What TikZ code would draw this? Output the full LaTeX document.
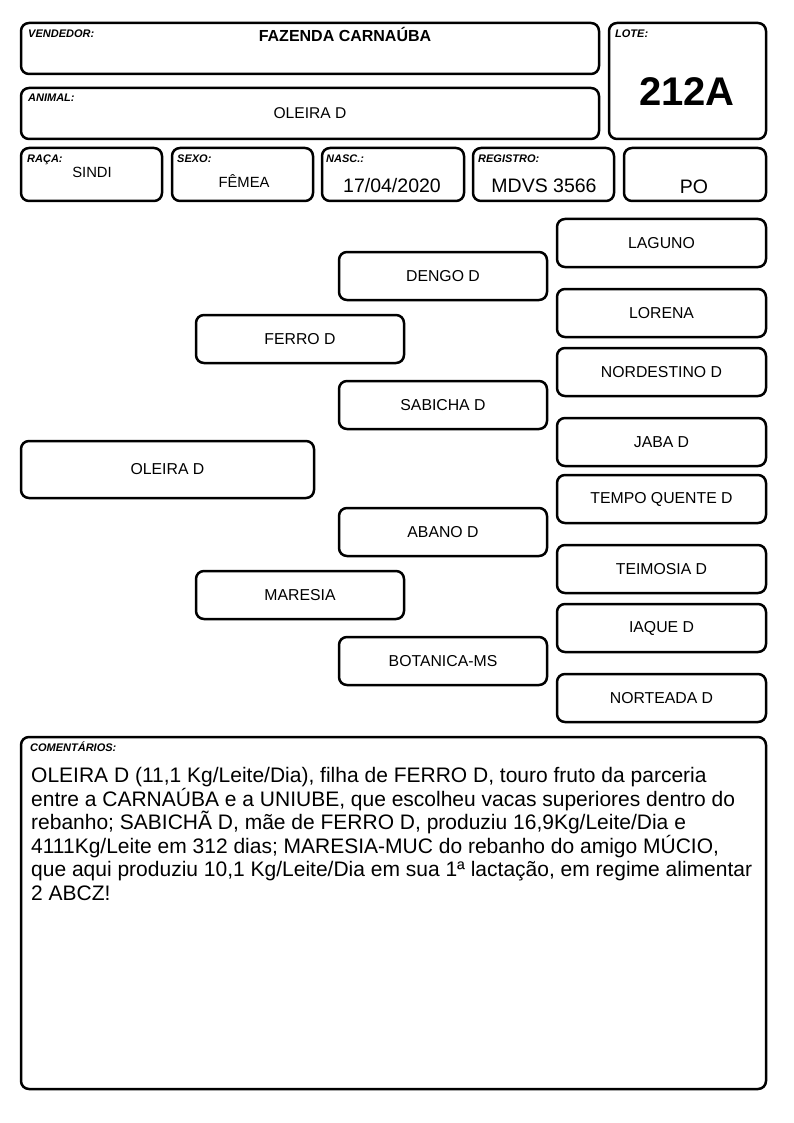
\documentclass[tikz,border=0pt]{standalone}
\usepackage{fontspec}
\setmainfont{Liberation Sans}
\usetikzlibrary{positioning}

\tikzset{
  box/.style={draw, line width=2.5pt, rounded corners=8pt, inner sep=0pt},
  pbox/.style={box, minimum width=208pt, minimum height=48pt, font=\fontsize{15.8}{18}\selectfont},
  tag/.style={anchor=base west, inner sep=0pt, font=\fontsize{11}{12}\selectfont\bfseries\itshape},
  val/.style={anchor=base, inner sep=0pt, font=\fontsize{#1}{#1}\selectfont},
}

\begin{document}
\begin{tikzpicture}[x=1pt,y=-1pt]
    \useasboundingbox (0,0) rectangle (794,1123);

    % Header boxes.
    \node[box, minimum width=578pt, minimum height=51pt] (vendedor) at (310,48.5) {};
    \node[box, minimum width=157pt, minimum height=116pt] (lote) at (687.5,81) {};
    \node[box, minimum width=578pt, minimum height=51pt] (animal) at (310,113.5) {};
    \node[box, minimum width=141pt, minimum height=53pt] (raca) at (91.5,174.5) {};
    \node[box, minimum width=141pt, minimum height=53pt] (sexo) at (242.5,174.5) {};
    \node[box, minimum width=142pt, minimum height=53pt] (nasc) at (393,174.5) {};
    \node[box, minimum width=141pt, minimum height=53pt] (registro) at (543.5,174.5) {};
    \node[box, minimum width=142pt, minimum height=53pt] (categoria) at (695,174.5) {};

    % Field names.
    \node[tag] (vendedortag) at (28,38) {VENDEDOR:};
    \node[tag] (lotetag) at (615,38) {LOTE:};
    \node[tag] (animaltag) at (28,102) {ANIMAL:};
    \node[tag] (racatag) at (27,163) {RAÇA:};
    \node[tag] (sexotag) at (177,163) {SEXO:};
    \node[tag] (nasctag) at (326,163) {NASC.:};
    \node[tag] (registrotag) at (478,163) {REGISTRO:};

    % Field values.
    \node[val=16, font=\fontsize{16}{16}\selectfont\bfseries] (vendedorval) at (345,42) {FAZENDA CARNAÚBA};
    \node[val=40, font=\fontsize{40}{40}\selectfont\bfseries] (loteval) at (687,106) {212A};
    \node[val=15.6] (animalval) at (310,119) {OLEIRA D};
    \node[val=14.8] (racaval) at (92,178) {SINDI};
    \node[val=14.8] (sexoval) at (244,188) {FÊMEA};
    \node[val=19.5] (nascval) at (392,193) {17/04/2020};
    \node[val=19.5] (registroval) at (544,193) {MDVS 3566};
    \node[val=19.5] (categoriaval) at (694,194) {PO};

    % Pedigree.
    \node[pbox, minimum width=293pt, minimum height=57pt] (oleira) at (167.5,469.5) {OLEIRA D};
    \node[pbox] (ferro) at (300,339) {FERRO D};
    \node[pbox] (maresia) at (300,595) {MARESIA};
    \node[pbox] (dengo) at (443,276) {DENGO D};
    \node[pbox] (sabicha) at (443,405) {SABICHA D};
    \node[pbox] (abano) at (443,532) {ABANO D};
    \node[pbox] (botanica) at (443,661) {BOTANICA-MS};
    \node[pbox, minimum width=209pt] (laguno) at (661.5,243) {LAGUNO};
    \node[pbox, minimum width=209pt] (lorena) at (661.5,313) {LORENA};
    \node[pbox, minimum width=209pt] (nordestino) at (661.5,372) {NORDESTINO D};
    \node[pbox, minimum width=209pt] (jaba) at (661.5,442) {JABA D};
    \node[pbox, minimum width=209pt] (tempo) at (661.5,499) {TEMPO QUENTE D};
    \node[pbox, minimum width=209pt] (teimosia) at (661.5,569) {TEIMOSIA D};
    \node[pbox, minimum width=209pt] (iaque) at (661.5,628) {IAQUE D};
    \node[pbox, minimum width=209pt] (norteada) at (661.5,698) {NORTEADA D};

    % Comments.
    \node[box, minimum width=745pt, minimum height=352pt] (comentarios) at (393.5,913) {};
    \node[tag] (comentariostag) at (30,751) {COMENTÁRIOS:};
    \node[anchor=north west, inner sep=0pt, align=left, font=\fontsize{21}{23.5}\selectfont] (comentariosval) at (31,767.5)
        {OLEIRA D (11,1 Kg/Leite/Dia), filha de FERRO D, touro fruto da parceria\\
         entre a CARNAÚBA e a UNIUBE, que escolheu vacas superiores dentro do\\
         rebanho; SABICHÃ D, mãe de FERRO D, produziu 16,9Kg/Leite/Dia e\\
         4111Kg/Leite em 312 dias; MARESIA-MUC do rebanho do amigo MÚCIO,\\
         que aqui produziu 10,1 Kg/Leite/Dia em sua 1ª lactação, em regime alimentar\\
         2 ABCZ!};

\end{tikzpicture}
\end{document}
